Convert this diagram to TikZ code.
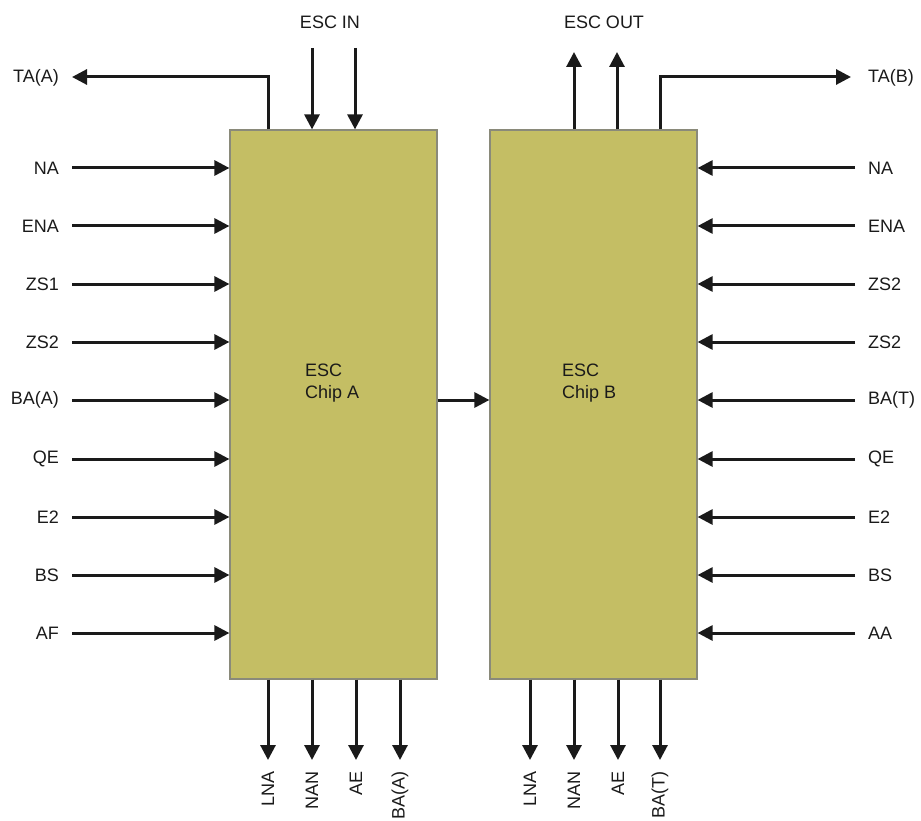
\documentclass[tikz,border=0pt]{standalone}
\usepackage{fontspec}
\setmainfont{Liberation Sans}
\usetikzlibrary{arrows.meta}
\definecolor{chipfill}{HTML}{C4BE64}
\definecolor{chipedge}{HTML}{8A8A7A}
\definecolor{ink}{HTML}{1A1A1A}
\begin{document}
\begin{tikzpicture}[x=1pt,y=-1pt,
  chip/.style={draw=chipedge,line width=1.2pt,fill=chipfill,minimum width=207pt,minimum height=549pt,inner sep=0pt},
  lab/.style={inner sep=0pt,font=\fontsize{18}{20}\selectfont,text=ink},
  arr/.style={draw=ink,line width=3pt,-{Triangle[length=15pt,width=15pt]}},
  wire/.style={draw=ink,line width=3pt}]
\useasboundingbox (0,0) rectangle (921,821);
\node[chip] (A) at (333.5,404.5) {};
\node[chip] (B) at (593.5,404.5) {};
\node[lab,align=left,anchor=north west] (tA) at (305,364) {ESC\\[1.5pt]Chip A};
\node[lab,align=left,anchor=north west] (tB) at (562,364) {ESC\\[1.5pt]Chip B};
% left inputs
\foreach \t/\y/\n in {NA/168/1,ENA/226/2,ZS1/284/3,ZS2/342/4,BA(A)/400/5,QE/459/6,E2/517/7,BS/575/8,AF/633/9}{
  \node[lab,anchor=east] (L\n) at (59,\y) {\t};
  \coordinate (lc\n) at (72,\y);
  \draw[arr] (lc\n) -- (lc\n -| A.west);
}
% right inputs
\foreach \t/\y/\n in {NA/168/1,ENA/226/2,ZS2/284/3,ZS2/342/4,BA(T)/400/5,QE/459/6,E2/517/7,BS/575/8,AA/633/9}{
  \node[lab,anchor=west] (R\n) at (868,\y) {\t};
  \coordinate (rc\n) at (855,\y);
  \draw[arr] (rc\n) -- (rc\n -| B.east);
}
% middle
\draw[arr] (A.east |- 0,400) -- (B.west |- 0,400);
% top A
\node[lab,anchor=east] (TAA) at (59,78) {TA(A)};
\coordinate (taa) at (72,77);
\coordinate (taA) at (268,0);
\draw[arr] (taA |- A.north) -- (taA |- taa) -- (taa);
\node[lab] (ESCIN) at (330,22) {ESC IN};
\coordinate (in1) at (312,48);
\coordinate (in2) at (355,48);
\draw[arr] (in1) -- (in1 |- A.north);
\draw[arr] (in2) -- (in2 |- A.north);
% top B
\node[lab] (ESCOUT) at (604,22) {ESC OUT};
\coordinate (out1) at (574,52);
\coordinate (out2) at (617,52);
\draw[arr] (out1 |- B.north) -- (out1);
\draw[arr] (out2 |- B.north) -- (out2);
\node[lab,anchor=west] (TAB) at (868,78) {TA(B)};
\coordinate (tab) at (851,77);
\coordinate (taB) at (660,0);
\draw[arr] (taB |- B.north) -- (taB |- tab) -- (tab);
% bottom
\foreach \t/\x/\n in {LNA/268/1,NAN/312/2,AE/356/3,BA(A)/400/4,LNA/530/5,NAN/574/6,AE/618/7,BA(T)/660/8}{
  \coordinate (bc\n) at (\x,760);
  \node[lab,rotate=90,anchor=east] (bl\n) at (\x,771) {\t};
}
\foreach \n in {1,2,3,4}{\draw[arr] (bc\n |- A.south) -- (bc\n);}
\foreach \n in {5,6,7,8}{\draw[arr] (bc\n |- B.south) -- (bc\n);}
\end{tikzpicture}
\end{document}
